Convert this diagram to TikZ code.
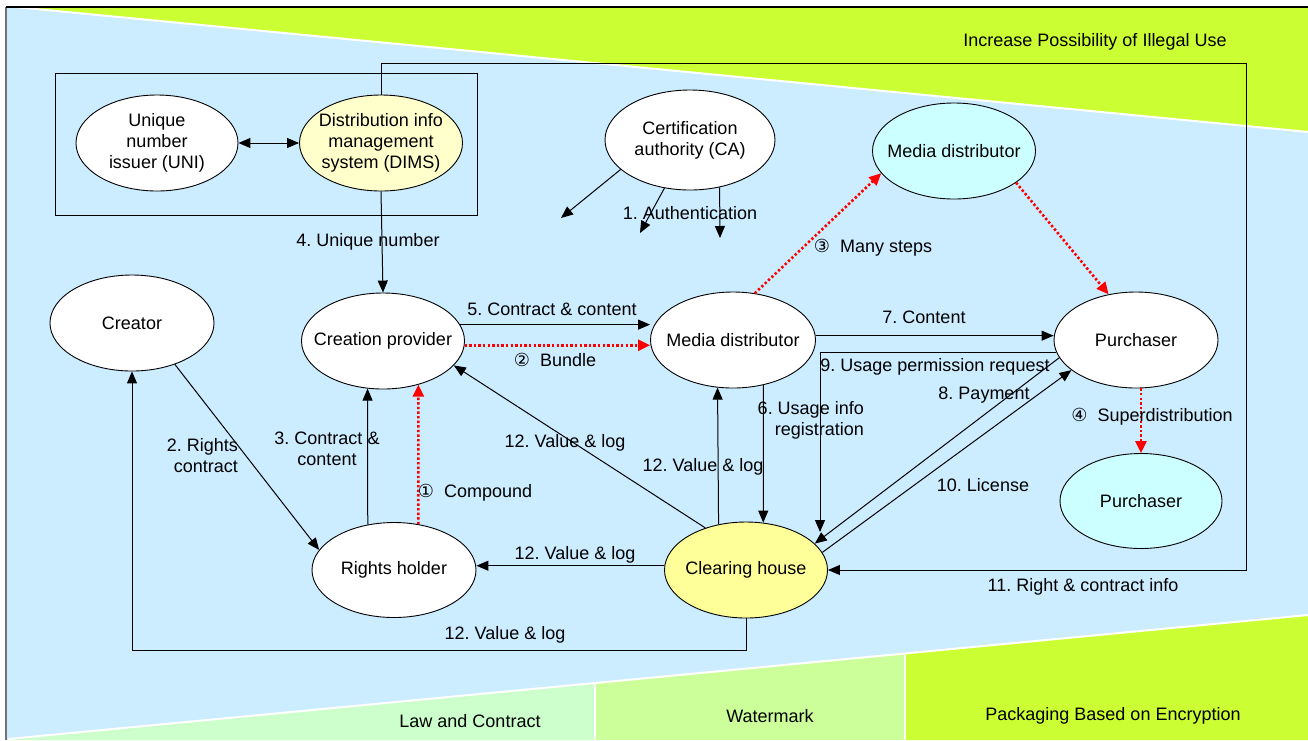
\documentclass[tikz,border=0pt]{standalone}
\usepackage{fontspec}
\setmainfont{Liberation Sans}
\newfontfamily\djv{DejaVu Sans}
\usetikzlibrary{shapes.geometric,arrows.meta,calc}
\frenchspacing
\definecolor{bgblue}{HTML}{CCECFF}
\definecolor{lime}{HTML}{CCFF33}
\definecolor{lawgreen}{HTML}{CCFFCC}
\definecolor{wmgreen}{HTML}{CCFF99}
\definecolor{chyellow}{HTML}{FFFF99}
\definecolor{dimsyellow}{HTML}{FFFFCC}
\definecolor{lcyan}{HTML}{CCFFFF}
\tikzset{
  ell/.style={ellipse, draw, line width=0.9pt, fill=white, minimum width=164pt, minimum height=96pt, inner sep=0pt},
  lab/.style={inner sep=0pt, align=center},
  arr/.style={line width=1pt, -{Triangle[length=12pt,width=10pt]}},
  darr/.style={line width=1pt, {Triangle[length=12pt,width=10pt]}-{Triangle[length=12pt,width=10pt]}},
  rarr/.style={red, line width=2.6pt, dash pattern=on 2.4pt off 2.2pt, -{Triangle[length=12pt,width=11pt]}},
  sep/.style={white, line width=2pt}
}
\begin{document}
\begin{tikzpicture}[x=1pt,y=-1pt, font=\fontsize{18}{21}\selectfont]
\useasboundingbox (0,0) rectangle (1308,740);
% background
\fill[white] (0,0) rectangle (1308,740);
\fill[bgblue] (6,7) rectangle (1308,740);
\fill[lime] (15,7) -- (1308,7) -- (1308,132) -- cycle;
\draw[sep] (15,7) -- (1308,132);
\fill[lawgreen] (8,740) -- (8,739) -- (595,683) -- (595,740) -- cycle;
\fill[wmgreen] (595,683) -- (905,654) -- (905,740) -- (595,740) -- cycle;
\fill[lime] (905,654) -- (1308,615) -- (1308,740) -- (905,740) -- cycle;
\draw[sep] (8,739) -- (1308,615);
\draw[sep] (595,683) -- (595,740);
\draw[sep] (905,654) -- (905,740);
\draw[line width=1.2pt, black!55] (6,740) -- (6,7);
\draw[line width=1.2pt] (6,7) -- (1308,7);
\node[lab] (tIncr) at (1095,42) {Increase Possibility of Illegal Use};
\node[lab] (tLaw) at (470,721) {Law and Contract};
\node[lab] (tWm) at (770,716) {Watermark};
\node[lab] (tPack) at (1113,716) {Packaging Based on Encryption};

% group box
\draw[line width=1pt] (55,73) rectangle (477,215);

% nodes
\node[ell, minimum width=162pt, label={[lab]center:{Unique\\number\\issuer (UNI)}}] (uni) at (157,143) {};
\node[ell, fill=dimsyellow, minimum width=163pt, label={[lab]center:{Distribution info\\management\\system (DIMS)}}] (dims) at (381,143) {};
\node[ell, minimum width=170pt, minimum height=100pt, label={[lab]center:{Certification\\authority (CA)}}] (ca) at (690,140) {};
\node[ell, fill=lcyan, minimum width=163pt, label={[lab]center:Media distributor}] (mdt) at (954,151) {};
\node[ell, label={[lab]center:Creator}] (creator) at (132,323) {};
\node[ell, minimum width=163pt, label={[lab]center:Creation provider}] (cp) at (383,341) {};
\node[ell, minimum width=165pt, label={[lab]center:Media distributor}] (md) at (733,340) {};
\node[ell, label={[lab]center:Purchaser}] (pur) at (1136,340) {};
\node[ell, fill=lcyan, minimum width=162pt, minimum height=95pt, label={[lab]center:Purchaser}] (pur2) at (1141,501) {};
\node[ell, minimum height=95pt, label={[lab]center:Rights holder}] (rh) at (394,570) {};
\node[ell, fill=chyellow, minimum width=163pt, label={[lab]center:Clearing house}] (ch) at (746,570) {};

% free ends
\coordinate (a1) at (561,218);
\coordinate (a2) at (640,233);
\coordinate (a3) at (720,238);
\coordinate (c11) at (1246,63);
\coordinate (c9) at (820,532);
\coordinate (c12) at (746,650);

% connectors
\draw[darr] (uni.east) -- (dims.west);
\draw[arr] (dims.north) |- (c11) |- (ch.east);
\node[lab] (l11) at (1083,587) {11. Right \& contract info};
\draw[arr] (dims.south) -- (cp.north);
\node[lab] (l4) at (368,242) {4. Unique number};

\draw[arr] (ca.203) -- (a1);
\draw[arr] (ca.242.5) -- (a2);
\draw[arr] (ca.302.6) -- (a3);
\node[lab] (l1) at (690,213) {1. Authentication};

\draw[arr] (cp.12) -- (cp.12 -| md.west);
\node[lab] (l5) at (552,309) {5. Contract \& content};
\draw[rarr] (cp.-3) -- (cp.-3 -| md.west);
\node[lab] (l2c) at (555,360) {{\djv ②}\ \ Bundle};

\draw[arr] (md.3.5) -- (md.3.5 -| pur.west);
\node[lab] (l7) at (924,317) {7. Content};

\draw[rarr] (md.65) -- (mdt.197);
\node[lab] (l3c) at (873,248) {{\djv ③}\ \ Many steps};
\draw[rarr] (mdt.333) -- (pur.121);
\draw[rarr] (pur2.north |- pur.south) -- (pur2.north);
\node[lab] (l4c) at (1152,417) {{\djv ④}\ \ Superdistribution};

\draw[arr] (creator.-44) -- (rh.165);
\node[lab, anchor=east, align=right] (l2) at (238,456) {2. Rights\hspace{12pt}\\contract};

\draw[arr] (rh.120) -- (cp.252.4);
\node[lab] (l3) at (327,449) {3. Contract \&\\content};
\draw[rarr] (rh.62) -- (cp.-51);
\node[lab] (l1c) at (475,493) {{\djv ①}\ \ Compound};

\draw[arr] (ch.134) -- (cp.-19);
\node[lab] (l12a) at (565,443) {12. Value \& log};
\draw[arr] (ch.121.8) -- (md.252.4);
\node[lab] (l12b) at (703,467) {12. Value \& log};
\draw[arr] (md.-56.1) -- (ch.70.1);
\node[lab, anchor=east, align=right] (l6) at (864,420) {6. Usage info\hspace{8pt}\\registration};

\draw[arr] (pur.189.4) -- (pur.189.4 -| c9) -- (c9);
\node[lab] (l9) at (935,367) {9. Usage permission request};
\draw[arr] (ch.13) -- (pur.205);
\node[lab] (l8) at (984,395) {8. Payment};
\draw[arr] (pur.193) -- (ch.21.5);
\node[lab] (l10) at (983,485) {10. License};

\draw[arr] (ch.177) -- (ch.177 -| rh.east);
\node[lab] (l12c) at (575,555) {12. Value \& log};
\draw[arr] (ch.south) -- (ch.south |- c12) -| (creator.south);
\node[lab] (l12d) at (505,635) {12. Value \& log};
\end{tikzpicture}
\end{document}
